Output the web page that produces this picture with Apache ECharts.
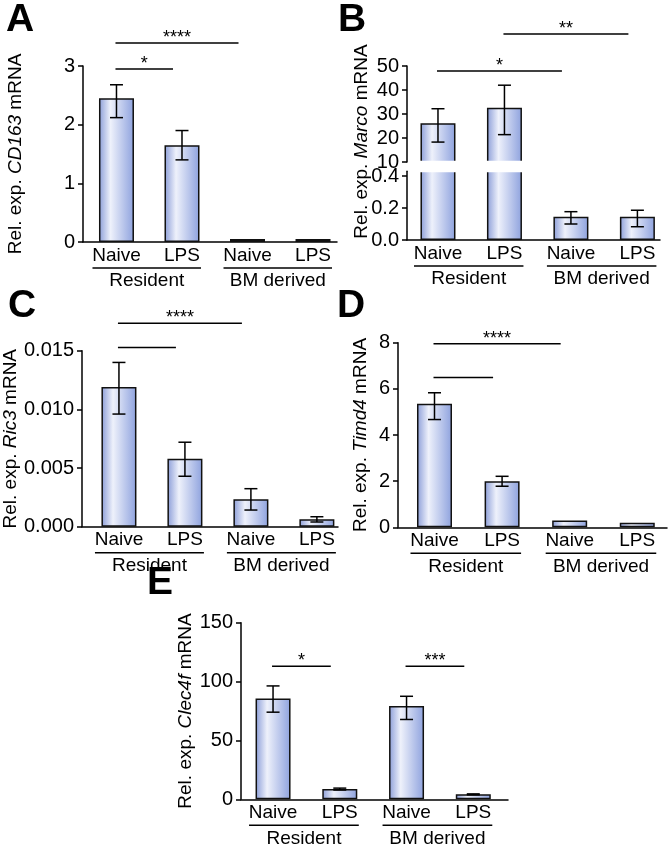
<!DOCTYPE html>
<html><head><meta charset="utf-8">
<script src="https://cdn.jsdelivr.net/npm/echarts@6/dist/echarts.min.js"></script>
<style>html,body{margin:0;padding:0;background:#fff}#c{width:669px;height:853px}</style>
</head><body><div id="c"></div>
<script>
// ---------- data ----------
const categories = ['Naive', 'LPS', 'Naive', 'LPS'];
const groups = ['Resident', 'BM derived'];
const groupSpans = [[0, 1], [2, 3]];

const cd163Mean = [2.45, 1.65, 0.05, 0.05];
const cd163Low  = [2.12, 1.40, 0.05, 0.05];
const cd163High = [2.68, 1.90, 0.05, 0.05];
const cd163Sig  = [[0, 2, 3.39, '****'], [0, 1, 2.95, '*']];

const marcoMean = [26.1, 32.6, 0.145, 0.145];
const marcoLow  = [18.3, 21.4, 0.100, 0.083];
const marcoHigh = [32.2, 42.0, 0.177, 0.186];
const marcoSig  = [[0, 2, 47.9, '*'], [1, 3, 63.3, '**']];

const ric3Mean = [0.0119, 0.0058, 0.00233, 0.00063];
const ric3Low  = [0.0096, 0.0043, 0.00142, 0.00040];
const ric3High = [0.0140, 0.0072, 0.00324, 0.00085];
const ric3Sig  = [[0, 2, 0.01733, '****'], [0, 1, 0.01528, '']];

const timd4Mean = [5.35, 2.00, 0.30, 0.20];
const timd4Low  = [4.67, 1.78, 0.30, 0.20];
const timd4High = [5.83, 2.21, 0.30, 0.20];
const timd4Sig  = [[0, 2, 7.95, '****'], [0, 1, 6.49, '']];

const clec4fMean = [85.6, 8.7, 79.3, 4.2];
const clec4fLow  = [74.0, 7.9, 67.8, 3.8];
const clec4fHigh = [96.3, 9.5, 87.5, 4.6];
const clec4fSig  = [[0, 1, 113, '*'], [2, 3, 113, '***']];

const cd163Ticks = [0, 1, 2, 3];
const marcoUpperTicks = [10, 20, 30, 40, 50];
const marcoLowerTicks = [0, 0.2, 0.4];
const ric3Ticks = [0, 0.005, 0.010, 0.015];
const timd4Ticks = [0, 2, 4, 6, 8];
const clec4fTicks = [0, 50, 100, 150];

// ---------- styles ----------
const FONT = '"Liberation Sans", Arial, Helvetica, sans-serif';
const BAR_W = 35;
const barFill = new echarts.graphic.LinearGradient(0, 0, 1, 0, [
  { offset: 0, color: '#8b9dd8' },
  { offset: 0.33, color: '#eef1fb' },
  { offset: 1, color: '#8ea2de' }
]);

const grids = [], xAxes = [], yAxes = [], series = [];

function addPanel(o) {
  const gi = grids.length;
  grids.push({ left: o.left, top: o.top, width: o.width, height: o.height, outerBoundsMode: 'none' });
  xAxes.push({
    gridIndex: gi, type: 'value', min: o.xmin, max: o.xmax, show: o.showX !== false,
    axisLine: { show: true, onZero: false, lineStyle: { color: '#000', width: 1.5 } },
    axisTick: { show: false }, splitLine: { show: false },
    axisLabel: { customValues: [0, 1, 2, 3], formatter: v => categories[Math.round(v)] || '',
      fontSize: 19, color: '#000', fontFamily: FONT, margin: 4 }
  });
  yAxes.push({
    gridIndex: gi, type: 'value', min: o.ymin, max: o.ymax,
    axisLine: { show: true, onZero: false, lineStyle: { color: '#000', width: 1.5 } },
    axisTick: { show: true, length: 5, lineStyle: { color: '#000', width: 1.5 }, customValues: o.ticks },
    splitLine: { show: false },
    axisLabel: { customValues: o.ticks, formatter: o.fmt, fontSize: 20, color: '#000', fontFamily: FONT, margin: 8 },
    name: o.name || '', nameLocation: 'middle', nameRotate: 90, nameGap: o.nameGap || 40,
    nameTextStyle: { fontSize: 19, color: '#000', fontFamily: FONT,
      rich: { n: { fontSize: 19, fontFamily: FONT, color: '#000' },
              i: { fontSize: 19, fontFamily: FONT, color: '#000', fontStyle: 'italic' } } }
  });
  return gi;
}

function addBars(gi, mean) {
  series.push({
    type: 'bar', xAxisIndex: gi, yAxisIndex: gi, barWidth: BAR_W, clip: true,
    data: mean.map((v, i) => [i, v]),
    itemStyle: { color: barFill, borderColor: '#111', borderWidth: 1.5 },
    silent: true, animation: false
  });
}

function addErr(gi, low, high, keep) {
  const d = [];
  low.forEach((l, i) => { if (high[i] > l && (!keep || keep(l, high[i]))) d.push([i, l, high[i]]); });
  series.push({
    type: 'custom', xAxisIndex: gi, yAxisIndex: gi, z: 5, animation: false, silent: true,
    data: d,
    renderItem: (p, api) => {
      const a = api.coord([api.value(0), api.value(1)]);
      const b = api.coord([api.value(0), api.value(2)]);
      const h = 6.5, st = { stroke: '#000', lineWidth: 1.5 };
      return { type: 'group', children: [
        { type: 'line', shape: { x1: a[0], y1: a[1], x2: b[0], y2: b[1] }, style: st },
        { type: 'line', shape: { x1: a[0] - h, y1: a[1], x2: a[0] + h, y2: a[1] }, style: st },
        { type: 'line', shape: { x1: b[0] - h, y1: b[1], x2: b[0] + h, y2: b[1] }, style: st }
      ] };
    }
  });
}

function addSig(gi, sig) {
  series.push({
    type: 'custom', xAxisIndex: gi, yAxisIndex: gi, z: 5, animation: false, silent: true, clip: false,
    data: sig.map(s => [s[0], s[1], s[2]]),
    renderItem: (p, api) => {
      const a = api.coord([api.value(0), api.value(2)]);
      const b = api.coord([api.value(1), api.value(2)]);
      const x1 = a[0] - 1, x2 = b[0] - 9, y = a[1];
      return { type: 'group', children: [
        { type: 'line', shape: { x1, y1: y, x2, y2: y }, style: { stroke: '#000', lineWidth: 1.5 } },
        { type: 'text', style: { text: sig[p.dataIndex][3], x: (x1 + x2) / 2, y: y + 4,
          fill: '#000', fontSize: 18, fontFamily: FONT, align: 'center', verticalAlign: 'bottom' } }
      ] };
    }
  });
}

function addGroups(gi, baseVal) {
  series.push({
    type: 'custom', xAxisIndex: gi, yAxisIndex: gi, z: 5, animation: false, silent: true, clip: false,
    data: groupSpans.map(g => [g[0], g[1]]),
    renderItem: (p, api) => {
      const a = api.coord([api.value(0), baseVal]);
      const b = api.coord([api.value(1), baseVal]);
      const x1 = a[0] - 24, x2 = b[0] + 19, y = a[1];
      return { type: 'group', children: [
        { type: 'line', shape: { x1, y1: y + 26, x2, y2: y + 26 }, style: { stroke: '#000', lineWidth: 1.5 } },
        { type: 'text', style: { text: groups[p.dataIndex], x: (x1 + x2) / 2, y: y + 39,
          fill: '#000', fontSize: 19, fontFamily: FONT, align: 'center', verticalAlign: 'middle' } }
      ] };
    }
  });
}

const intFmt = v => String(Math.round(v));

// Panel A
let g = addPanel({ left: 83, top: 66, width: 254, height: 176, xmin: -0.511, xmax: 3.366,
  ymin: 0, ymax: 3, ticks: cd163Ticks, fmt: intFmt,
  name: '{n|Rel. exp. }{i|CD163}{n| mRNA}', nameGap: 58 });
addBars(g, cd163Mean); addErr(g, cd163Low, cd163High); addSig(g, cd163Sig); addGroups(g, 0);

// Panel B (broken axis)
const brkMax = 0.43;
let gu = addPanel({ left: 407, top: 66, width: 253, height: 96, xmin: -0.466, xmax: 3.34, showX: false,
  ymin: 10, ymax: 50, ticks: marcoUpperTicks, fmt: intFmt });
let gl = addPanel({ left: 407, top: 171.2, width: 253, height: 68.8, xmin: -0.466, xmax: 3.34,
  ymin: 0, ymax: brkMax, ticks: marcoLowerTicks, fmt: v => v.toFixed(1) });
addBars(gu, marcoMean); addBars(gl, marcoMean);
addErr(gu, marcoLow, marcoHigh, (l) => l >= 10);
addErr(gl, marcoLow, marcoHigh, (l, h) => h <= brkMax);
series.push({
  type: 'custom', xAxisIndex: gl, yAxisIndex: gl, z: 4, animation: false, silent: true, clip: false,
  data: marcoMean.map((v, i) => [i, v]).filter(d => d[1] > brkMax),
  renderItem: (p, api) => {
    const c = api.coord([api.value(0), brkMax]);
    return { type: 'rect', shape: { x: c[0] - 22, y: c[1] - 10.5, width: 44, height: 11.5 }, style: { fill: '#fff' } };
  }
});
addSig(gu, marcoSig); addGroups(gl, 0);

// Panel C
g = addPanel({ left: 82, top: 350.7, width: 256, height: 176, xmin: -0.56, xmax: 3.32,
  ymin: 0, ymax: 0.015, ticks: ric3Ticks, fmt: v => v.toFixed(3),
  name: '{n|Rel. exp. }{i|Ric3}{n| mRNA}', nameGap: 57 });
addBars(g, ric3Mean); addErr(g, ric3Low, ric3High); addSig(g, ric3Sig); addGroups(g, 0);

// Panel D
g = addPanel({ left: 398, top: 342.7, width: 269, height: 184.6, xmin: -0.54, xmax: 3.44,
  ymin: 0, ymax: 8, ticks: timd4Ticks, fmt: intFmt,
  name: '{n|Rel. exp. }{i|Timd4}{n| mRNA}', nameGap: 28 });
addBars(g, timd4Mean); addErr(g, timd4Low, timd4High); addSig(g, timd4Sig); addGroups(g, 0);

// Panel E
g = addPanel({ left: 241, top: 622.7, width: 267, height: 176.6, xmin: -0.48, xmax: 3.52,
  ymin: 0, ymax: 150, ticks: clec4fTicks, fmt: intFmt,
  name: '{n|Rel. exp. }{i|Clec4f}{n| mRNA}', nameGap: 46 });
addBars(g, clec4fMean); addErr(g, clec4fLow, clec4fHigh); addSig(g, clec4fSig); addGroups(g, 0);

const letter = (t, x, y) => ({ type: 'text', x, y, silent: true,
  style: { text: t, fill: '#000', fontSize: 39, fontWeight: 'bold', fontFamily: FONT, align: 'left', verticalAlign: 'top' } });

const chart = echarts.init(document.getElementById('c'), null, { renderer: 'canvas' });
chart.setOption({
  backgroundColor: '#fff', animation: false,
  grid: grids, xAxis: xAxes, yAxis: yAxes, series,
  graphic: [
    letter('A', 6, 1), letter('B', 338, 1), letter('C', 8, 287), letter('D', 337, 287), letter('E', 147, 564),
    { type: 'text', x: 362, y: 141.5, rotation: Math.PI / 2, silent: true,
      style: { text: '{n|Rel. exp. }{i|Marco}{n| mRNA}', align: 'center', verticalAlign: 'middle',
        fill: '#000', fontSize: 19, fontFamily: FONT,
        rich: { n: { fontSize: 19, fontFamily: FONT, fill: '#000', color: '#000' },
                i: { fontSize: 19, fontFamily: FONT, fill: '#000', color: '#000', fontStyle: 'italic' } } } }
  ]
});
</script></body></html>
